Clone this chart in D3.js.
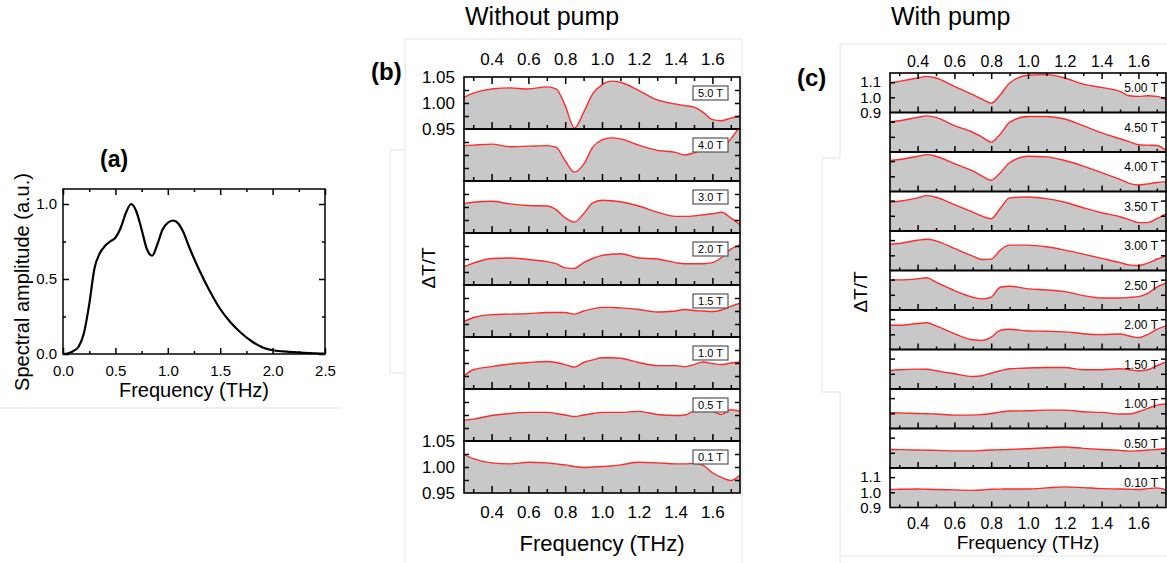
<!DOCTYPE html>
<html>
<head>
<meta charset="utf-8">
<script src="https://cdn.jsdelivr.net/npm/d3@7"></script>
<style>
  body { margin: 0; background: #fff; }
  text { font-family: "Liberation Sans", Arial, sans-serif; fill: #000; }
</style>
</head>
<body>
<svg id="fig" width="1167" height="563"></svg>
<script>
// (a) spectrum of the THz pulse
const freqA = [0,0.05,0.1,0.15,0.2,0.25,0.3,0.35,0.4,0.45,0.5,0.55,0.6,0.65,0.7,0.75,0.8,0.85,0.9,0.95,1.0,1.05,1.1,1.15,1.2,1.3,1.4,1.5,1.6,1.7,1.8,1.9,2.0,2.1,2.2,2.3,2.4,2.5];
const ampA = [0,0.005,0.02,0.05,0.14,0.33,0.57,0.67,0.72,0.75,0.775,0.84,0.94,1.0,0.95,0.83,0.70,0.655,0.73,0.83,0.875,0.89,0.87,0.81,0.72,0.56,0.42,0.30,0.21,0.14,0.085,0.045,0.025,0.017,0.012,0.008,0.005,0.002];

// (b) without pump
const freqB = [0.25,0.3,0.4,0.5,0.6,0.7,0.75,0.8,0.85,0.9,0.95,1.0,1.05,1.1,1.2,1.3,1.4,1.45,1.5,1.55,1.6,1.65,1.7,1.75];
const fieldsB = ["5.0 T","4.0 T","3.0 T","2.0 T","1.5 T","1.0 T","0.5 T","0.1 T"];
const b50 = [1.011,1.019,1.027,1.029,1.027,1.031,1.027,0.995,0.952,0.982,1.018,1.035,1.042,1.040,1.024,1.006,0.998,0.995,0.992,0.982,0.968,0.966,0.971,0.974];
const b40 = [1.018,1.019,1.021,1.016,1.017,1.018,1.015,0.989,0.967,0.982,1.015,1.029,1.033,1.031,1.019,1.009,1.005,1.000,1.004,1.010,1.013,1.013,1.031,1.055];
const b30 = [1.007,1.009,1.011,1.006,1.003,1.002,0.995,0.979,0.971,0.987,1.008,1.013,1.012,1.010,1.002,0.990,0.982,0.982,0.983,0.985,0.987,0.990,0.979,0.966];
const b20 = [0.985,0.992,1.001,1.002,0.999,0.995,0.991,0.983,0.982,0.993,1.001,1.007,1.009,1.010,1.002,1.000,0.993,0.991,0.991,0.991,0.993,1.003,1.019,1.027];
const b15 = [0.980,0.987,0.993,0.994,0.995,0.997,0.997,0.997,0.994,1.000,1.004,1.007,1.007,1.006,1.003,0.998,1.000,1.003,1.001,1.000,0.999,1.002,1.009,1.015];
const b10 = [0.975,0.987,0.993,0.998,1.001,1.003,1.001,0.997,0.992,1.001,1.006,1.010,1.010,1.009,1.001,0.995,0.995,0.993,0.997,1.002,0.999,0.997,1.000,1.002];
const b05 = [0.990,0.992,0.999,1.003,1.005,1.005,1.003,1.000,0.997,1.000,1.003,1.005,1.005,1.005,1.007,1.001,0.999,1.000,1.008,1.012,1.007,1.001,1.010,1.007];
const b01 = [1.024,1.016,1.008,1.006,1.009,1.008,1.006,1.004,1.001,0.999,1.000,1.001,1.002,1.004,1.009,1.008,1.006,1.006,1.007,1.003,0.989,0.980,0.974,0.984];

// (c) with pump
const freqC = [0.25,0.3,0.4,0.45,0.5,0.6,0.7,0.75,0.8,0.85,0.9,1.0,1.1,1.2,1.3,1.4,1.5,1.55,1.6,1.65,1.7,1.75];
const fieldsC = ["5.00 T","4.50 T","4.00 T","3.50 T","3.00 T","2.50 T","2.00 T","1.50 T","1.00 T","0.50 T","0.10 T"];
const c500 = [1.094,1.105,1.127,1.138,1.127,1.072,1.017,0.988,0.962,1.017,1.094,1.145,1.149,1.127,1.087,1.065,1.039,1.010,1.006,1.010,1.006,0.984];
const c450 = [1.099,1.106,1.128,1.138,1.128,1.073,1.030,0.998,0.965,1.019,1.095,1.134,1.134,1.117,1.073,1.026,0.987,0.968,0.948,0.945,0.943,0.911];
const c400 = [1.104,1.111,1.132,1.143,1.132,1.083,1.035,1.002,0.974,1.024,1.089,1.132,1.128,1.104,1.067,1.024,0.980,0.954,0.943,0.950,0.959,0.965];
const c350 = [1.090,1.096,1.118,1.133,1.122,1.074,1.024,0.998,0.981,1.050,1.118,1.124,1.113,1.089,1.053,1.020,0.994,0.975,0.955,0.955,0.981,1.013];
const c300 = [1.073,1.078,1.099,1.106,1.095,1.045,0.995,0.972,0.975,1.035,1.067,1.067,1.056,1.034,1.008,0.980,0.952,0.937,0.933,0.948,0.974,0.995];
const c250 = [1.100,1.098,1.105,1.112,1.083,1.028,0.984,0.973,0.985,1.050,1.056,1.039,1.032,1.021,0.995,0.979,0.979,0.983,0.988,1.010,1.050,1.078];
const c200 = [1.060,1.060,1.071,1.076,1.056,1.004,0.964,0.960,0.982,1.027,1.033,1.022,1.020,1.016,1.004,0.998,1.002,0.989,0.978,0.998,1.033,1.056];
const c150 = [1.020,1.027,1.031,1.030,1.020,1.000,0.982,0.987,1.004,1.020,1.033,1.038,1.042,1.042,1.027,1.027,1.033,1.027,1.020,1.027,1.053,1.078];
const c100 = [1.004,1.003,0.999,0.997,0.995,0.988,0.988,0.992,0.999,1.008,1.015,1.017,1.021,1.021,1.010,1.006,0.995,0.995,1.010,1.032,1.054,1.061];
const c050 = [1.022,1.021,1.018,1.017,1.016,1.013,1.013,1.015,1.018,1.020,1.022,1.027,1.033,1.038,1.029,1.022,1.016,1.011,1.014,1.018,1.022,1.027];
const c010 = [1.018,1.020,1.022,1.020,1.018,1.016,1.013,1.015,1.020,1.021,1.022,1.022,1.029,1.036,1.031,1.024,1.022,1.020,1.018,1.024,1.029,1.016];

const xMajor = [0.4,0.6,0.8,1.0,1.2,1.4,1.6];
const xMinor = [0.3,0.5,0.7,0.9,1.1,1.3,1.5,1.7];

const svg = d3.select('#fig');

// faint frames left over from the composite figure
const frame = svg.append('g').attr('fill', 'none').attr('stroke', '#e4e4e4').attr('stroke-width', 1);
frame.append('path').attr('d', 'M0,408H341');
frame.append('path').attr('d', 'M405,563V150H390V373H405M405,150V39H742V563');
frame.append('path').attr('d', 'M840,563V392H822V158H840V44H1167M840,556H1167');

function axisIn(g, axis, fs) {
  g.call(axis);
  g.select('.domain').remove();
  g.selectAll('.tick line').attr('stroke', '#000').attr('stroke-width', 1.5);
  g.selectAll('.tick text').style('font-size', fs + 'px').attr('fill', '#000');
}

// ---------- panel (a)
(function () {
  const x = d3.scaleLinear().domain([0, 2.5]).range([63, 325]);
  const y = d3.scaleLinear().domain([0, 1.1]).range([354, 189]);
  const g = svg.append('g');
  const maj = [0, 0.5, 1.0, 1.5, 2.0, 2.5], minX = [0.25, 0.75, 1.25, 1.75, 2.25];

  axisIn(g.append('g').attr('transform', 'translate(0,354)'),
    d3.axisBottom(x).tickValues(maj).tickFormat(d3.format('.1f')).tickSize(-6).tickPadding(11), 15);
  axisIn(g.append('g').attr('transform', 'translate(0,354)'),
    d3.axisBottom(x).tickValues(minX).tickFormat('').tickSize(-3), 15);
  axisIn(g.append('g').attr('transform', 'translate(0,189)'),
    d3.axisTop(x).tickValues(maj).tickFormat('').tickSize(-6), 15);
  axisIn(g.append('g').attr('transform', 'translate(0,189)'),
    d3.axisTop(x).tickValues(minX).tickFormat('').tickSize(-3), 15);
  axisIn(g.append('g').attr('transform', 'translate(63,0)'),
    d3.axisLeft(y).tickValues([0, 0.5, 1.0]).tickFormat(d3.format('.1f')).tickSize(-6).tickPadding(6), 15);
  axisIn(g.append('g').attr('transform', 'translate(63,0)'),
    d3.axisLeft(y).tickValues([0.25, 0.75]).tickFormat('').tickSize(-3), 15);
  axisIn(g.append('g').attr('transform', 'translate(325,0)'),
    d3.axisRight(y).tickValues([0, 0.5, 1.0]).tickFormat('').tickSize(-6), 15);
  axisIn(g.append('g').attr('transform', 'translate(325,0)'),
    d3.axisRight(y).tickValues([0.25, 0.75]).tickFormat('').tickSize(-3), 15);

  const line = d3.line().curve(d3.curveMonotoneX).x(d => x(d[0])).y(d => y(d[1]));
  g.append('path').datum(freqA.map((f, i) => [f, ampA[i]]))
    .attr('fill', 'none').attr('stroke', '#000').attr('stroke-width', 2.2).attr('d', line);

  g.append('rect').attr('x', 63).attr('y', 189).attr('width', 262).attr('height', 165)
    .attr('fill', 'none').attr('stroke', '#000').attr('stroke-width', 1.5);

  g.append('text').attr('x', 100).attr('y', 167).style('font-size', '23px').style('font-weight', 'bold').text('(a)');
  g.append('text').attr('x', 194).attr('y', 397).attr('text-anchor', 'middle').style('font-size', '20px').text('Frequency (THz)');
  g.append('text').attr('transform', 'translate(22,282) rotate(-90)').attr('dy', '0.35em')
    .attr('text-anchor', 'middle').style('font-size', '20px').text('Spectral amplitude (a.u.)');
})();

// ---------- stacked panels (b) and (c)
function stack(cfg) {
  const x = d3.scaleLinear().domain([0.25, 1.75]).range([cfg.left, cfg.right]);
  const n = cfg.series.length;
  const g = svg.append('g');

  cfg.series.forEach((vals, i) => {
    const top = cfg.top + i * cfg.h, bot = top + cfg.h;
    const y = d3.scaleLinear().domain(cfg.yDomain).range([bot, top]);
    const sg = g.append('g');
    const clipId = cfg.id + '-clip-' + i;
    sg.append('clipPath').attr('id', clipId).append('rect')
      .attr('x', cfg.left).attr('y', top).attr('width', cfg.right - cfg.left).attr('height', cfg.h);

    const pts = cfg.freq.map((f, k) => [f, vals[k]]);
    const area = d3.area().curve(d3.curveMonotoneX).x(d => x(d[0])).y0(bot).y1(d => y(d[1]));
    const line = d3.line().curve(d3.curveMonotoneX).x(d => x(d[0])).y(d => y(d[1]));
    const pg = sg.append('g').attr('clip-path', 'url(#' + clipId + ')');
    pg.append('path').datum(pts).attr('fill', '#c8c8c8').attr('d', area);
    pg.append('path').datum(pts).attr('fill', 'none').attr('stroke', '#ff2a2a').attr('stroke-width', 1.4).attr('d', line);

    const last = i === n - 1, first = i === 0;
    // bottom ticks of every slice, labels on the last one
    axisIn(sg.append('g').attr('transform', 'translate(0,' + bot + ')'),
      d3.axisBottom(x).tickValues(xMajor).tickFormat(last ? d3.format('.1f') : '')
        .tickSize(-cfg.major).tickPadding(cfg.padBottom), cfg.tickFs);
    axisIn(sg.append('g').attr('transform', 'translate(0,' + bot + ')'),
      d3.axisBottom(x).tickValues(xMinor).tickFormat('').tickSize(-cfg.minor), cfg.tickFs);
    if (first) {
      axisIn(sg.append('g').attr('transform', 'translate(0,' + top + ')'),
        d3.axisTop(x).tickValues(xMajor).tickFormat(d3.format('.1f'))
          .tickSize(-cfg.major).tickPadding(cfg.padTop), cfg.tickFs);
      axisIn(sg.append('g').attr('transform', 'translate(0,' + top + ')'),
        d3.axisTop(x).tickValues(xMinor).tickFormat('').tickSize(-cfg.minor), cfg.tickFs);
    }
    axisIn(sg.append('g').attr('transform', 'translate(' + cfg.left + ',0)'),
      d3.axisLeft(y).tickValues(cfg.yTicks).tickFormat('').tickSize(-cfg.side), cfg.tickFs);
    axisIn(sg.append('g').attr('transform', 'translate(' + cfg.right + ',0)'),
      d3.axisRight(y).tickValues(cfg.yTicks).tickFormat('').tickSize(-cfg.side), cfg.tickFs);
    if (first || last) {
      axisIn(sg.append('g').attr('transform', 'translate(' + cfg.left + ',0)'),
        d3.axisLeft(y).tickValues(cfg.yLabels).tickFormat(d3.format(cfg.yFmt))
          .tickSize(0).tickPadding(cfg.padLeft), cfg.yFs);
    }

    sg.append('rect').attr('x', cfg.left).attr('y', top).attr('width', cfg.right - cfg.left).attr('height', cfg.h)
      .attr('fill', 'none').attr('stroke', '#000').attr('stroke-width', 1.6);

    cfg.label(sg, cfg.fields[i], top);
  });

  svg.append('text').attr('x', cfg.title[1]).attr('y', 25).style('font-size', '25px').text(cfg.title[0]);
  svg.append('text').attr('x', cfg.tag[1]).attr('y', cfg.tag[2]).style('font-size', '24px')
    .style('font-weight', 'bold').text(cfg.tag[0]);
  svg.append('text').attr('x', (cfg.left + cfg.right) / 2).attr('y', cfg.xLabelY).attr('text-anchor', 'middle')
    .style('font-size', cfg.xLabelFs + 'px').text('Frequency (THz)');
  svg.append('text').attr('transform', 'translate(' + cfg.yLabelPos[0] + ',' + cfg.yLabelPos[1] + ') rotate(-90)')
    .attr('dy', '0.35em').attr('text-anchor', 'middle').style('font-size', '19px').text('\u0394T/T');
}

stack({
  id: 'b', left: 464, right: 740, top: 77, h: 52,
  freq: freqB, fields: fieldsB, series: [b50, b40, b30, b20, b15, b10, b05, b01],
  yDomain: [0.95, 1.05], yTicks: [0.975, 1.0, 1.025], yLabels: [0.95, 1.0, 1.05], yFmt: '.2f',
  major: 7, minor: 4, side: 5, padTop: 12, padBottom: 13, padLeft: 9, tickFs: 17, yFs: 17,
  title: ['Without pump', 465], tag: ['(b)', 371, 80], xLabelY: 551, xLabelFs: 22, yLabelPos: [428, 268],
  label: (sg, t, top) => {
    sg.append('rect').attr('x', 693).attr('y', top + 9).attr('width', 35).attr('height', 14)
      .attr('fill', '#fff').attr('stroke', '#555').attr('stroke-width', 1.2);
    sg.append('text').attr('x', 710.5).attr('y', top + 20).attr('text-anchor', 'middle')
      .style('font-size', '11px').text(t);
  }
});

stack({
  id: 'c', left: 890, right: 1166, top: 73, h: 39.5,
  freq: freqC, fields: fieldsC, series: [c500, c450, c400, c350, c300, c250, c200, c150, c100, c050, c010],
  yDomain: [0.9, 1.16], yTicks: [1.0, 1.1], yLabels: [0.9, 1.0, 1.1], yFmt: '.1f',
  major: 6, minor: 3, side: 5, padTop: 6, padBottom: 10, padLeft: 9, tickFs: 16, yFs: 15,
  title: ['With pump', 891], tag: ['(c)', 797, 86], xLabelY: 549, xLabelFs: 19, yLabelPos: [860, 292],
  label: (sg, t, top) => {
    sg.append('text').attr('x', 1158).attr('y', top + 19).attr('text-anchor', 'end')
      .style('font-size', '12px').text(t);
  }
});
</script>
</body>
</html>
